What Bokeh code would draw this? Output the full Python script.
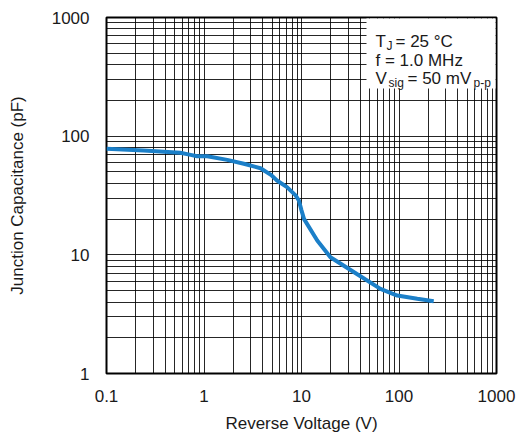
import numpy as np
from bokeh.plotting import figure
from bokeh.models import FixedTicker, CustomJSTickFormatter, BoxAnnotation, Label
from bokeh.embed import file_html
from bokeh.resources import INLINE

# Data
voltage = [0.1, 0.24, 0.57, 0.73, 0.85, 1.08, 1.73, 2.56, 3.8, 4.9, 5.6, 7.1, 8.7, 9.4, 10.0,
           10.6, 14.5, 19.8, 37, 64.5, 96, 154, 227]
capacitance = [78.2, 75.7, 72.4, 69.6, 67.8, 67.8, 63.1, 58.5, 53.7, 47.0, 42.3, 37.2, 31.7,
               28.7, 23.7, 20.1, 13.2, 9.55, 6.9, 5.17, 4.54, 4.26, 4.06]
x_ticks = [0.1, 1, 10, 100, 1000]
y_ticks = [1, 10, 100, 1000]

FONT = "Liberation Sans"
W, H = 529, 436
L, R, T, B = 106, 33, 17, 63

x_minor = [m * d for d in [0.1, 1, 10, 100] for m in range(2, 10)]
y_minor = [m * d for d in [1, 10, 100] for m in range(2, 10)]

p = figure(width=W, height=H, x_axis_type="log", y_axis_type="log",
           x_range=(0.1, 1000), y_range=(1, 1000),
           output_backend="svg", toolbar_location=None,
           min_border_left=L, min_border_right=R, min_border_top=T, min_border_bottom=B)
p.background_fill_color = "white"
p.border_fill_color = "white"
p.outline_line_color = "black"
p.outline_line_width = 2

fmt = CustomJSTickFormatter(code="return String(Number(tick.toPrecision(6)));")
p.xaxis.ticker = FixedTicker(ticks=x_ticks, minor_ticks=x_minor)
p.yaxis.ticker = FixedTicker(ticks=y_ticks, minor_ticks=y_minor)
for ax in (p.xaxis, p.yaxis):
    ax.formatter = fmt
    ax.axis_line_color = None
    ax.major_tick_line_color = None
    ax.minor_tick_line_color = None
    ax.major_label_text_font = FONT
    ax.major_label_text_font_size = "17px"
    ax.major_label_text_color = "#1a1a1a"
    ax.axis_label_text_font = FONT
    ax.axis_label_text_font_size = "17px"
    ax.axis_label_text_font_style = "normal"
    ax.axis_label_text_color = "#1a1a1a"

p.xaxis.axis_label = "Reverse Voltage (V)"
p.yaxis.axis_label = "Junction Capacitance (pF)"
p.xaxis.major_label_standoff = 10
p.xaxis.axis_label_standoff = 9
p.yaxis.major_label_standoff = 11
p.yaxis.axis_label_standoff = 22

for g in (p.xgrid, p.ygrid):
    g.grid_line_color = "black"
    g.grid_line_alpha = 0.85
    g.grid_line_width = 1
    g.minor_grid_line_color = "black"
    g.minor_grid_line_alpha = 0.85
    g.minor_grid_line_width = 1

p.line(voltage, capacitance, line_color="#1b7fc8", line_width=4)

# pixel -> data helpers for annotation placement
fw, fh = W - L - R, H - T - B
def xd(px):
    return 10 ** ((px - L) / fw * 4 - 1)
def yd(py):
    return 10 ** ((H - B - py) / fh * 3)

p.add_layout(BoxAnnotation(left=xd(366), bottom=yd(88), right=xd(495), top=yd(18),
                           fill_color="white", fill_alpha=1, line_color=None))

pieces = [
    ("T", 375, 41, 17), ("J", 386, 45, 12), ("= 25 °C", 395, 41, 17),
    ("f = 1.0 MHz", 375, 59.5, 17),
    ("V", 375, 78, 17), ("sig", 388, 82, 12), ("= 50 mV", 407, 78, 17), ("p-p", 473, 82, 12),
]
for txt, px, py, fs in pieces:
    p.add_layout(Label(x=xd(px), y=yd(py), text=txt, text_font=FONT,
                       text_font_size=f"{fs}px", text_color="#1a1a1a",
                       text_baseline="alphabetic", text_align="left"))

open("out.html", "w").write(file_html(p, INLINE))
